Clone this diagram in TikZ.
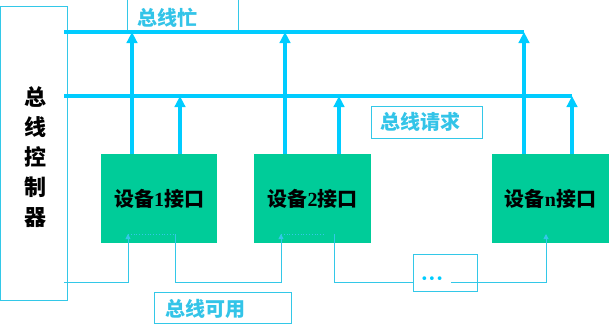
\documentclass[tikz,border=0pt]{standalone}
\usepackage{fontspec}
\setmainfont{Liberation Serif}
\newfontfamily\cjk{Noto Sans CJK SC}
\newfontfamily\dotfont{DejaVu Sans}
\usetikzlibrary{arrows.meta}
\definecolor{buscol}{HTML}{00CCFF}
\definecolor{thincol}{HTML}{33C8E8}
\definecolor{devfill}{HTML}{00CC99}
\definecolor{labcol}{HTML}{33C4E8}
\tikzset{
  bus/.style={buscol,line width=3.5pt},
  busarrow/.style={buscol,line width=3.2pt,-{Triangle[width=10.5pt,length=11pt]}},
  chain/.style={thincol,line width=0.9pt},
  chainarrow/.style={thincol,line width=0.9pt,-{Triangle[width=5pt,length=5pt]}},
  dotline/.style={thincol,line width=0.8pt,dotted},
  device/.style={draw=none,fill=devfill,minimum width=116pt,minimum height=89pt,inner sep=0pt,
     font=\fontsize{20pt}{20pt}\selectfont\bfseries},
  labbox/.style={draw=thincol,line width=0.8pt,inner sep=0pt},
  labtext/.style={text=labcol,inner sep=0pt,font=\cjk\bfseries\fontsize{20pt}{20pt}\selectfont},
}
\begin{document}
\begin{tikzpicture}[x=1pt,y=-1pt]
\useasboundingbox (0,0) rectangle (610,325);
% controller
\node[draw=thincol,line width=0.8pt,minimum width=67pt,minimum height=294pt,inner sep=0pt] (ctrl) at (34,153) {};
\node[align=center,font=\cjk\bfseries\fontsize{22pt}{30pt}\selectfont] (ctrltext) at (35,157) {总\\线\\控\\制\\器};
% labels
\node[labbox,minimum width=111pt,minimum height=31pt] (busy) at (182.5,15) {};
\node[labtext] (busyt) at (167,18) {总线忙};
\node[labbox,minimum width=111pt,minimum height=32pt] (req) at (426.5,122) {};
\node[labtext] (reqt) at (420,122) {总线请求};
\node[labbox,minimum width=137pt,minimum height=31pt] (grant) at (222.5,307.5) {};
\node[labtext] (grantt) at (205,309) {总线可用};
% devices
\node[device] (d1) at (159,198.5) {{\cjk 设备}1{\cjk 接口}};
\node[device,minimum width=117pt] (d2) at (312.5,198.5) {{\cjk 设备}2{\cjk 接口}};
\node[device,minimum width=117pt] (dn) at (550.5,198.5) {{\cjk 设备}n{\cjk 接口}};
% buses
\coordinate (busyL) at (64,32);
\coordinate (busyR) at (524,32);
\coordinate (reqL) at (64,96);
\coordinate (reqR) at (572,96);
\draw[bus] (busyL) -- (busyR);
\draw[bus] (reqL) -- (reqR);
% arrow x positions
\coordinate (a1) at (132,32);
\coordinate (a2) at (180,96);
\coordinate (a3) at (285,32);
\coordinate (a4) at (339,96);
\coordinate (a5) at (524,32);
\coordinate (a6) at (572,96);
\draw[busarrow] (a1 |- d1.north) -- (a1);
\draw[busarrow] (a2 |- d1.north) -- (a2);
\draw[busarrow] (a3 |- d2.north) -- (a3);
\draw[busarrow] (a4 |- d2.north) -- (a4);
\draw[busarrow] (a5 |- dn.north) -- (a5);
\draw[busarrow] (a6 |- dn.north) -- (a6);
% daisy chain
\coordinate (g0) at (64,282);
\coordinate (g1) at (128,234);
\coordinate (g1o) at (175,234);
\coordinate (g2) at (281,234);
\coordinate (g2o) at (325,234);
\coordinate (g2out) at (334,234);
\coordinate (gn) at (546,234);
\node[draw=thincol,line width=0.8pt,minimum width=64pt,minimum height=37pt,inner sep=0pt] (dots) at (445,272.5) {};
\node[text=buscol,font=\dotfont\fontsize{13pt}{13pt}\selectfont,inner sep=0pt] (dotst) at (432,280) {•••};
\draw[chainarrow] (g0) -| (g1);
\draw[dotline] (g1) -- (g1o);
\draw[chainarrow] (g1o) |- (g0 -| g2) -- (g2);
\draw[dotline] (g2) -- (g2o);
\draw[chain] (g2out) |- (dots.west |- g0);
\draw[chainarrow] (451,282) -| (gn);
\end{tikzpicture}
\end{document}
